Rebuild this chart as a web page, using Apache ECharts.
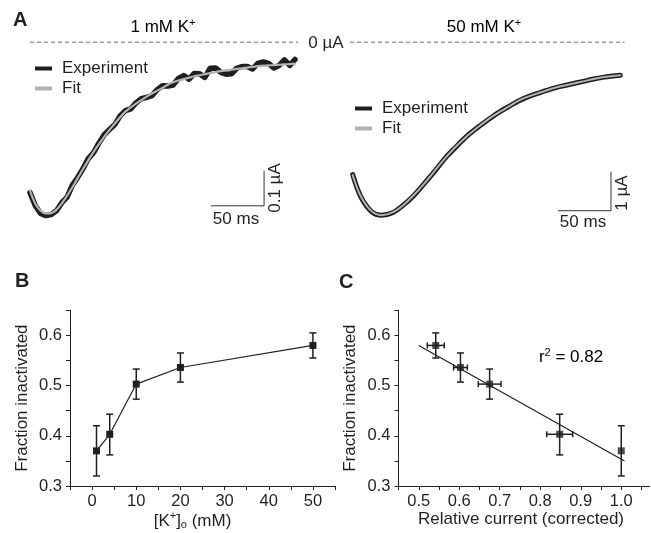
<!DOCTYPE html>
<html>
<head>
<meta charset="utf-8">
<script src="https://cdn.jsdelivr.net/npm/echarts@6/dist/echarts.min.js"></script>
<style>html,body{margin:0;padding:0;background:#fff;}#c{width:651px;height:533px;}</style>
</head>
<body>
<div id="c"></div>
<script>
// ---------- Panel A data (time in ms, current in µA) ----------
const tLeft = [0,5,10,15,20,25,30,35,40,45,50,55,60,65,70,75,80,85,90,95,100,105,110,115,120,125,130,135,140,145,150,155,160,165,170,175,180,185,190,195,200,205,210,215,220,225,230,235,240,245,250];
const expLeft = [-0.430,-0.468,-0.490,-0.496,-0.493,-0.482,-0.459,-0.443,-0.409,-0.387,-0.362,-0.333,-0.316,-0.289,-0.265,-0.250,-0.236,-0.211,-0.196,-0.191,-0.174,-0.162,-0.158,-0.153,-0.136,-0.125,-0.126,-0.123,-0.104,-0.096,-0.106,-0.090,-0.091,-0.101,-0.075,-0.074,-0.087,-0.092,-0.091,-0.075,-0.070,-0.070,-0.077,-0.061,-0.057,-0.061,-0.074,-0.067,-0.051,-0.067,-0.050];
const fitLeft = [-0.425,-0.462,-0.482,-0.490,-0.489,-0.479,-0.461,-0.439,-0.415,-0.389,-0.363,-0.338,-0.314,-0.292,-0.271,-0.251,-0.233,-0.215,-0.199,-0.187,-0.176,-0.166,-0.156,-0.147,-0.139,-0.131,-0.122,-0.115,-0.110,-0.106,-0.102,-0.098,-0.095,-0.092,-0.089,-0.086,-0.083,-0.081,-0.079,-0.077,-0.075,-0.073,-0.071,-0.069,-0.068,-0.067,-0.066,-0.065,-0.064,-0.063,-0.062];

const tRight = [2.5,10,20,30,40,50,60,70,80,90,100,110,120,130,140,150,160,170,180,190,200,210,220,230,240,255];
const expRight = [-3.40,-3.96,-4.34,-4.44,-4.38,-4.19,-3.94,-3.63,-3.31,-2.97,-2.69,-2.42,-2.20,-2.00,-1.81,-1.65,-1.50,-1.38,-1.29,-1.20,-1.13,-1.07,-1.01,-0.95,-0.90,-0.85];
const fitRight = [-3.41,-3.95,-4.33,-4.44,-4.37,-4.19,-3.93,-3.63,-3.30,-2.97,-2.68,-2.42,-2.20,-1.99,-1.81,-1.65,-1.49,-1.38,-1.29,-1.20,-1.13,-1.07,-1.01,-0.95,-0.90,-0.85];

const zeroLineLeftT = [0, 253];
const zeroLineRightT = [0, 259];
// scale bars: [t start, t length(ms), current start, current length(µA)]
const scaleLeft = [170.8, 50, -0.468, 0.1];
const scaleRight = [196.2, 50, -4.326, 1];

// ---------- Panel B data ----------
const kConc = [1, 4, 10, 20, 50];
const fracB = [0.370, 0.403, 0.503, 0.536, 0.580];
const fracBLow = [0.320, 0.362, 0.473, 0.507, 0.555];
const fracBHigh = [0.420, 0.443, 0.533, 0.565, 0.605];

// ---------- Panel C data ----------
const relCurrent = [0.542, 0.603, 0.675, 0.848, 1.000];
const relCurrentLow = [0.521, 0.586, 0.647, 0.816, 1.000];
const relCurrentHigh = [0.563, 0.620, 0.703, 0.880, 1.000];
const fracC = [0.580, 0.536, 0.503, 0.403, 0.370];
const fracCLow = [0.555, 0.507, 0.473, 0.362, 0.320];
const fracCHigh = [0.605, 0.565, 0.533, 0.443, 0.420];
const fitCX = [0.5, 1.008];
const fitCY = [0.580, 0.350];

// ticks
const bXTicks = [-5,0,5,10,15,20,25,30,35,40,45,50,55];
const bXLabels = [0,10,20,30,40,50];
const yTicks = [0.3,0.35,0.4,0.45,0.5,0.55,0.6,0.65];
const yLabels = [0.3,0.4,0.5,0.6];
const cXTicks = [0.45,0.5,0.55,0.6,0.65,0.7,0.75,0.8,0.85,0.9,0.95,1.0,1.05];
const cXLabels = [0.5,0.6,0.7,0.8,0.9,1.0];

const FONT = '"Liberation Sans", Arial, Helvetica, sans-serif';
const INK = '#231f20';
const GRAYFIT = '#b3b3b3';

function zip(a, b) { return a.map((v, i) => [v, b[i]]); }

function errRender(params, api) {
  const x = api.value(0), y = api.value(1);
  const ylo = api.value(2), yhi = api.value(3), xlo = api.value(4), xhi = api.value(5);
  const st = { stroke: INK, lineWidth: 1.5 };
  const ch = [];
  const a = api.coord([x, ylo]), b = api.coord([x, yhi]);
  ch.push({ type: 'line', shape: { x1: a[0], y1: a[1], x2: b[0], y2: b[1] }, style: st });
  ch.push({ type: 'line', shape: { x1: a[0]-3.5, y1: a[1], x2: a[0]+3.5, y2: a[1] }, style: st });
  ch.push({ type: 'line', shape: { x1: b[0]-3.5, y1: b[1], x2: b[0]+3.5, y2: b[1] }, style: st });
  if (xhi > xlo) {
    const c = api.coord([xlo, y]), d = api.coord([xhi, y]);
    ch.push({ type: 'line', shape: { x1: c[0], y1: c[1], x2: d[0], y2: d[1] }, style: st });
    ch.push({ type: 'line', shape: { x1: c[0], y1: c[1]-3, x2: c[0], y2: c[1]+3 }, style: st });
    ch.push({ type: 'line', shape: { x1: d[0], y1: d[1]-3, x2: d[0], y2: d[1]+3 }, style: st });
  }
  return { type: 'group', children: ch };
}

const hidden = { show: false };
function hiddenAxis(idx, min, max) {
  return { type: 'value', gridIndex: idx, min: min, max: max, show: false, splitLine: hidden };
}
const axisLineStyle = { show: true, onZero: false, lineStyle: { color: INK, width: 1 } };

function valAxis(idx, min, max, ticks, labels, fmt, name, nameGap, namePad, rich, isY) {
  return {
    type: 'value', gridIndex: idx, min: min, max: max,
    axisLine: axisLineStyle,
    axisTick: { show: true, length: 4, customValues: ticks, lineStyle: { color: INK, width: 1 } },
    axisLabel: { show: true, customValues: labels, formatter: fmt, color: INK, fontSize: 16.5, fontFamily: FONT, margin: isY ? 8 : 7 },
    splitLine: hidden,
    name: name, nameLocation: 'middle', nameGap: nameGap,
    nameTextStyle: { color: INK, fontSize: 17, fontFamily: FONT, padding: namePad, rich: rich }
  };
}

const subRich = {
  n: { fontSize: 17, fontFamily: FONT, color: INK, lineHeight: 20 },
  sup: { fontSize: 11, fontFamily: FONT, color: INK, verticalAlign: 'top', lineHeight: 20, padding: [0, 0, 8, 0] },
  sub: { fontSize: 11, fontFamily: FONT, color: INK, verticalAlign: 'bottom', lineHeight: 20, padding: [7, 0, 0, 0] }
};

const legendText = { fontSize: 17, fontFamily: FONT, color: INK, lineHeight: 17, padding: [0, 0, 0, 5] };

const option = {
  animation: false,
  backgroundColor: '#ffffff',
  grid: [
    { left: 30, top: 42, width: 300, height: 189, outerBoundsMode: 'none', containLabel: false },
    { left: 350, top: 42, width: 300, height: 191.1, outerBoundsMode: 'none', containLabel: false },
    { left: 70, top: 310.3, width: 265, height: 175.7, outerBoundsMode: 'none', containLabel: false },
    { left: 398.5, top: 310.3, width: 251.1, height: 175.7, outerBoundsMode: 'none', containLabel: false }
  ],
  xAxis: [
    hiddenAxis(0, 0, 283),
    hiddenAxis(1, 0, 283),
    valAxis(2, -5, 55, bXTicks, bXLabels, v => String(v), '{n|[K}{sup|+}{n|]}{sub|o}{n| (mM)}', 22, [0, 20, 0, 0], subRich, false),
    valAxis(3, 0.45, 1.07, cXTicks, cXLabels, v => v.toFixed(1), 'Relative current (corrected)', 22, [0, 6, 0, 0], null, false)
  ],
  yAxis: [
    hiddenAxis(0, -0.54, 0),
    hiddenAxis(1, -4.9, 0),
    valAxis(2, 0.3, 0.65, yTicks, yLabels, v => v.toFixed(1), 'Fraction inactivated', 39, [0, 0, 0, 0], null, true),
    valAxis(3, 0.3, 0.65, yTicks, yLabels, v => v.toFixed(1), 'Fraction inactivated', 40, [0, 0, 0, 0], null, true)
  ],
  legend: [
    { left: 35, top: 60, padding: 0, orient: 'vertical', itemWidth: 17, itemHeight: 4, itemGap: 3, icon: 'rect', selectedMode: false,
      data: ['Experiment', 'Fit'], textStyle: legendText },
    { left: 355, top: 100, padding: 0, orient: 'vertical', itemWidth: 17, itemHeight: 4, itemGap: 3, icon: 'rect', selectedMode: false,
      data: ['Experiment', 'Fit'], textStyle: legendText }
  ],
  graphic: [
    { type: 'text', x: 13, y: 20, style: { text: 'A', fontSize: 20, fontWeight: 'bold', fontFamily: FONT, fill: INK, align: 'left', verticalAlign: 'middle' } },
    { type: 'text', x: 15, y: 281, style: { text: 'B', fontSize: 20, fontWeight: 'bold', fontFamily: FONT, fill: INK, align: 'left', verticalAlign: 'middle' } },
    { type: 'text', x: 339, y: 282, style: { text: 'C', fontSize: 20, fontWeight: 'bold', fontFamily: FONT, fill: INK, align: 'left', verticalAlign: 'middle' } },
    { type: 'text', x: 163, y: 27, style: { text: '{n|1 mM K}{sup|+}', rich: subRich, align: 'center', verticalAlign: 'middle' } },
    { type: 'text', x: 484, y: 27, style: { text: '{n|50 mM K}{sup|+}', rich: subRich, align: 'center', verticalAlign: 'middle' } },
    { type: 'text', x: 326, y: 43, style: { text: '0 µA', fontSize: 17, fontFamily: FONT, fill: INK, align: 'center', verticalAlign: 'middle' } },
    { type: 'text', x: 236, y: 219, style: { text: '50 ms', fontSize: 17, fontFamily: FONT, fill: INK, align: 'center', verticalAlign: 'middle' } },
    { type: 'text', x: 275, y: 188, rotation: Math.PI / 2, style: { text: '0.1 µA', fontSize: 17, fontFamily: FONT, fill: INK, align: 'center', verticalAlign: 'middle' } },
    { type: 'text', x: 583, y: 222, style: { text: '50 ms', fontSize: 17, fontFamily: FONT, fill: INK, align: 'center', verticalAlign: 'middle' } },
    { type: 'text', x: 622, y: 193, rotation: Math.PI / 2, style: { text: '1 µA', fontSize: 17, fontFamily: FONT, fill: INK, align: 'center', verticalAlign: 'middle' } },
    { type: 'text', x: 571, y: 357, style: { text: '{n|r}{sup|2}{n| = 0.82}', rich: subRich, align: 'center', verticalAlign: 'middle' } }
  ],
  series: [
    // Panel A left
    { type: 'line', xAxisIndex: 0, yAxisIndex: 0, data: zeroLineLeftT.map(t => [t, 0]), symbol: 'none', silent: true,
      lineStyle: { color: '#3a3a3a', width: 1, type: [4, 3] } },
    { name: 'Experiment', type: 'line', xAxisIndex: 0, yAxisIndex: 0, data: zip(tLeft, expLeft), symbol: 'none', smooth: false, color: '#1e1e1e',
      lineStyle: { color: '#1e1e1e', width: 5.5, cap: 'round', join: 'round' } },
    { name: 'Fit', type: 'line', xAxisIndex: 0, yAxisIndex: 0, data: zip(tLeft, fitLeft), symbol: 'none', smooth: 0.4, color: GRAYFIT,
      lineStyle: { color: GRAYFIT, width: 2.2, cap: 'round' } },
    { type: 'line', xAxisIndex: 0, yAxisIndex: 0, symbol: 'none', silent: true,
      data: [[scaleLeft[0], scaleLeft[2]], [scaleLeft[0] + scaleLeft[1], scaleLeft[2]], [scaleLeft[0] + scaleLeft[1], scaleLeft[2] + scaleLeft[3]]],
      lineStyle: { color: '#333', width: 1 } },
    // Panel A right
    { type: 'line', xAxisIndex: 1, yAxisIndex: 1, data: zeroLineRightT.map(t => [t, 0]), symbol: 'none', silent: true,
      lineStyle: { color: '#3a3a3a', width: 1, type: [4, 3] } },
    { name: 'Experiment', type: 'line', xAxisIndex: 1, yAxisIndex: 1, data: zip(tRight, expRight), symbol: 'none', smooth: 0.3, color: '#1e1e1e',
      lineStyle: { color: '#1e1e1e', width: 5, cap: 'round', join: 'round' } },
    { name: 'Fit', type: 'line', xAxisIndex: 1, yAxisIndex: 1, data: zip(tRight, fitRight), symbol: 'none', smooth: 0.3, color: GRAYFIT,
      lineStyle: { color: GRAYFIT, width: 2, cap: 'round' } },
    { type: 'line', xAxisIndex: 1, yAxisIndex: 1, symbol: 'none', silent: true,
      data: [[scaleRight[0], scaleRight[2]], [scaleRight[0] + scaleRight[1], scaleRight[2]], [scaleRight[0] + scaleRight[1], scaleRight[2] + scaleRight[3]]],
      lineStyle: { color: '#333', width: 1 } },
    // Panel B
    { type: 'custom', xAxisIndex: 2, yAxisIndex: 2, renderItem: errRender, silent: true,
      data: kConc.map((k, i) => [k, fracB[i], fracBLow[i], fracBHigh[i], k, k]) },
    { type: 'line', xAxisIndex: 2, yAxisIndex: 2, data: zip(kConc, fracB), symbol: 'rect', symbolSize: 7,
      itemStyle: { color: INK }, lineStyle: { color: INK, width: 1.2 } },
    // Panel C
    { type: 'line', xAxisIndex: 3, yAxisIndex: 3, data: zip(fitCX, fitCY), symbol: 'none', lineStyle: { color: INK, width: 1.2 } },
    { type: 'custom', xAxisIndex: 3, yAxisIndex: 3, renderItem: errRender, silent: true,
      data: relCurrent.map((x, i) => [x, fracC[i], fracCLow[i], fracCHigh[i], relCurrentLow[i], relCurrentHigh[i]]) },
    { type: 'scatter', xAxisIndex: 3, yAxisIndex: 3, data: zip(relCurrent, fracC), symbol: 'rect', symbolSize: 7, itemStyle: { color: INK } }
  ]
};

const chart = echarts.init(document.getElementById('c'), null, { renderer: 'canvas' });
chart.setOption(option);
</script>
</body>
</html>
